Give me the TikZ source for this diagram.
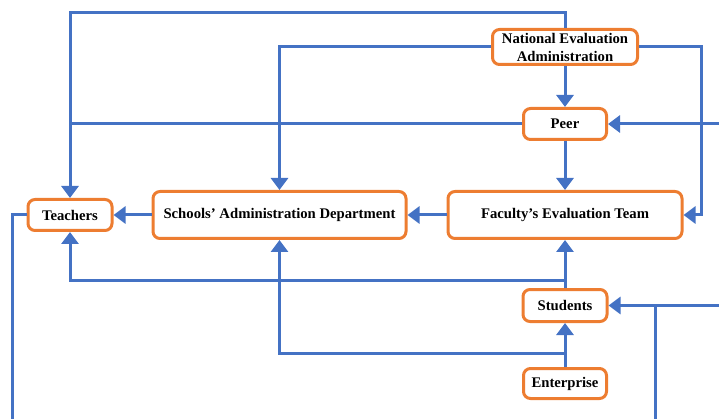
\documentclass[tikz,border=0pt]{standalone}
\usepackage{fontspec}
\setmainfont{Liberation Serif}
\usepackage{tikz}
\usetikzlibrary{arrows.meta, positioning}
\definecolor{boxline}{HTML}{ED7D31}
\definecolor{flowline}{HTML}{4472C4}

\begin{document}
\begin{tikzpicture}[x=1pt, y=1pt, every node/.style={font=\fontsize{14.7}{18}\selectfont\bfseries},
  unit/.style={draw=boxline, line width=3pt, rounded corners=7pt, fill=white, align=center, inner sep=2pt},
  flow/.style={draw=flowline, line width=3pt},
  arr/.style={flow, -{Triangle[length=12pt, width=17pt]}}]
  \useasboundingbox (0,0) rectangle (719,-419);
  \coordinate (redge) at (719,0);
  \coordinate (bedge) at (0,-419);
  \coordinate (tleft) at (12,0);
  \coordinate (sright) at (655,0);
  % evaluation units
  \node[unit, minimum width=145pt, minimum height=35pt] (nea) at (565,-47) {National Evaluation\\Administration};
  \node[unit, minimum width=83pt, minimum height=31pt, below=41pt of nea] (peer) {Peer};
  \node[unit, minimum width=234pt, minimum height=47pt, below=49pt of peer] (fet) {Faculty’s Evaluation Team};
  \node[unit, minimum width=253pt, minimum height=47pt, left=39pt of fet] (sad) {Schools’ Administration Department};
  \node[unit, minimum width=84pt, minimum height=31pt, left=38pt of sad] (tch) {Teachers};
  \node[unit, minimum width=84pt, minimum height=32pt, below=48pt of fet] (stu) {Students};
  \node[unit, minimum width=83pt, minimum height=30pt, below=44pt of stu] (ent) {Enterprise};
  % national level
  \draw[arr] (nea.north) -- ++(0,15) -| (tch.north);
  \draw[arr] (nea.west) -| (sad.north);
  \draw[arr] (nea.east) -- ++(62,0) |- (fet.east);
  \draw[arr] (nea.south) -- (peer.north);
  % peer
  \draw[flow] (peer.west) -- (peer.west -| tch.north);
  \draw[arr] (peer.east -| redge) -- (peer.east);
  \draw[arr] (peer.south) -- (fet.north);
  % school level
  \draw[arr] (fet.west) -- (sad.east);
  \draw[arr] (sad.west) -- (tch.east);
  \draw[flow] (tch.west) -| (tleft |- bedge);
  % students and enterprise
  \draw[arr] (stu.north) -- ++(0,8) -| (tch.south);
  \draw[arr] (stu.north) -- (fet.south);
  \draw[arr] (stu.east -| redge) -- (stu.east);
  \draw[flow] (stu.east -| sright) -- (sright |- bedge);
  \draw[arr] (ent.north) -- (stu.south);
  \draw[arr] (ent.north) -- ++(0,14) -| (sad.south);
\end{tikzpicture}
\end{document}
